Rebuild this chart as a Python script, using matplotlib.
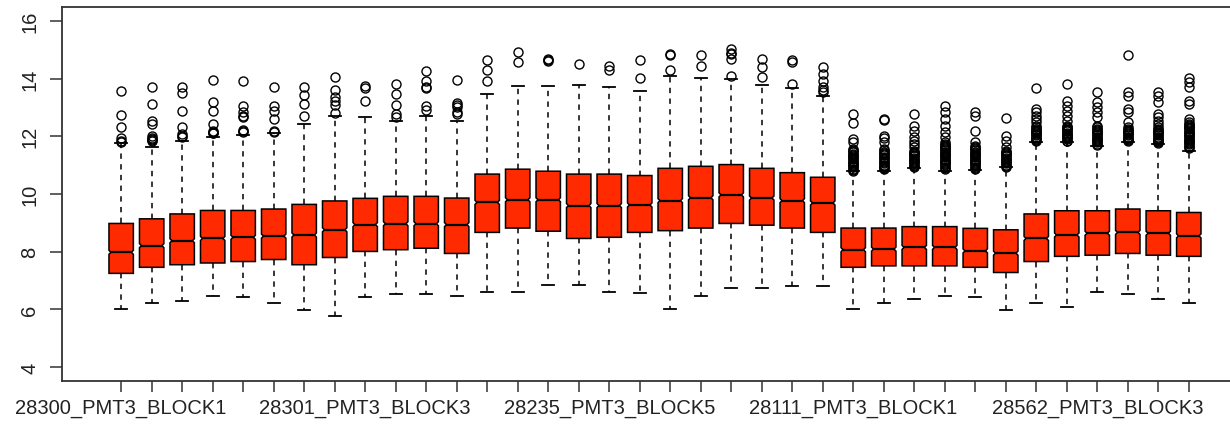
import numpy as np
import matplotlib.pyplot as plt

# box statistics, one entry per box (36 boxes)
q3 = [8.98, 9.14, 9.31, 9.43, 9.43, 9.48, 9.64, 9.76, 9.85, 9.92, 9.92, 9.86,
      10.69, 10.86, 10.79, 10.69, 10.69, 10.64, 10.89, 10.96, 11.02, 10.89, 10.74, 10.58,
      8.82, 8.82, 8.87, 8.87, 8.81, 8.76, 9.31, 9.42, 9.42, 9.48, 9.42, 9.36]
med = [7.98, 8.21, 8.38, 8.46, 8.50, 8.54, 8.58, 8.76, 8.94, 8.97, 8.97, 8.94,
       9.71, 9.80, 9.80, 9.60, 9.60, 9.62, 9.77, 9.87, 9.97, 9.86, 9.77, 9.69,
       8.07, 8.09, 8.15, 8.15, 8.03, 7.95, 8.46, 8.58, 8.64, 8.67, 8.64, 8.55]
q1 = [7.25, 7.46, 7.55, 7.61, 7.66, 7.73, 7.55, 7.80, 8.01, 8.07, 8.12, 7.94,
      8.67, 8.82, 8.71, 8.46, 8.50, 8.67, 8.73, 8.82, 8.98, 8.92, 8.82, 8.67,
      7.46, 7.51, 7.51, 7.51, 7.46, 7.28, 7.66, 7.84, 7.88, 7.94, 7.88, 7.84]
whishi = [11.76, 11.64, 11.83, 11.97, 12.05, 12.10, 12.43, 12.72, 12.66, 12.54, 12.69, 12.54,
          13.47, 13.73, 13.73, 13.79, 13.70, 13.58, 14.08, 14.02, 13.99, 13.79, 13.66, 13.41,
          10.79, 10.81, 10.90, 10.81, 10.84, 10.92, 11.79, 11.79, 11.68, 11.79, 11.73, 11.50]
whislo = [6.03, 6.24, 6.30, 6.47, 6.42, 6.24, 5.98, 5.76, 6.44, 6.52, 6.53, 6.47,
          6.62, 6.62, 6.84, 6.86, 6.62, 6.57, 6.03, 6.47, 6.74, 6.74, 6.80, 6.82,
          6.03, 6.21, 6.36, 6.47, 6.42, 5.98, 6.22, 6.10, 6.59, 6.53, 6.36, 6.22]

outliers = [
    [13.56, 12.74, 12.31, 11.93, 11.85, 11.79],
    [13.72, 13.11, 12.54, 12.43, 12.02, 11.95, 11.91, 11.87, 11.85],
    [13.72, 13.49, 12.89, 12.31, 12.08, 12.02, 11.98],
    [13.95, 13.18, 12.89, 12.43, 12.18, 12.15, 12.12, 12.10],
    [13.90, 13.04, 12.83, 12.72, 12.66, 12.22, 12.18, 12.14],
    [13.72, 13.04, 12.89, 12.60, 12.20, 12.16],
    [13.72, 13.43, 13.12, 12.72],
    [14.05, 13.62, 13.35, 13.24, 13.09, 12.80],
    [13.73, 13.66, 13.24],
    [13.82, 13.47, 13.09, 12.77, 12.66],
    [14.25, 13.93, 13.70, 13.66, 13.04, 12.92],
    [13.95, 13.16, 13.09, 13.00, 12.83, 12.77],
    [14.65, 14.28, 13.90],
    [14.91, 14.59],
    [14.68, 14.64, 14.60],
    [14.49],
    [14.42, 14.28],
    [14.65, 14.03],
    [14.86, 14.82, 14.28],
    [14.83, 14.45],
    [15.01, 14.90, 14.86, 14.68, 14.08],
    [14.68, 14.39, 14.05],
    [14.65, 14.57, 13.82],
    [14.39, 14.16, 13.93, 13.70, 13.62, 13.55],
    [12.77, 12.46, 11.90, 11.79, 11.56, 11.52, 11.48, 11.44, 11.40, 11.36, 11.32, 11.28,
     11.24, 11.20, 11.16, 11.12, 11.08, 11.04, 11.00, 10.96, 10.92, 10.88, 10.84, 10.81],
    [12.60, 12.58, 12.02, 11.93, 11.79, 11.56, 11.52, 11.47, 11.43, 11.38, 11.34, 11.29,
     11.25, 11.20, 11.16, 11.11, 11.07, 11.02, 10.98, 10.93, 10.89, 10.85],
    [12.77, 12.37, 12.19, 11.96, 11.85, 11.73, 11.62, 11.50, 11.46, 11.42, 11.38, 11.34,
     11.30, 11.26, 11.22, 11.18, 11.14, 11.10, 11.06, 11.02, 10.98, 10.94],
    [13.06, 12.83, 12.60, 12.37, 12.14, 11.96, 11.79, 11.75, 11.71, 11.67, 11.63, 11.59,
     11.55, 11.51, 11.47, 11.43, 11.39, 11.35, 11.31, 11.27, 11.23, 11.19, 11.15, 11.11,
     11.07, 11.03, 10.99, 10.95, 10.91, 10.87],
    [12.83, 12.71, 12.19, 11.79, 11.67, 11.63, 11.59, 11.55, 11.51, 11.47, 11.43, 11.39,
     11.35, 11.31, 11.27, 11.23, 11.19, 11.15, 11.11, 11.07, 11.03, 10.99, 10.95, 10.91, 10.88],
    [12.62, 12.02, 11.85, 11.62, 11.50, 11.46, 11.42, 11.38, 11.34, 11.30, 11.26, 11.22,
     11.18, 11.14, 11.10, 11.06, 11.02, 10.98, 10.95],
    [13.67, 12.95, 12.83, 12.71, 12.60, 12.48, 12.37, 12.31, 12.27, 12.23, 12.19, 12.15,
     12.11, 12.07, 12.03, 11.99, 11.95, 11.91, 11.87, 11.83],
    [13.81, 13.23, 13.06, 12.89, 12.71, 12.54, 12.37, 12.33, 12.29, 12.25, 12.21, 12.17,
     12.13, 12.09, 12.05, 12.01, 11.97, 11.93, 11.89, 11.85, 11.82],
    [13.55, 13.18, 13.00, 12.83, 12.66, 12.37, 12.31, 12.27, 12.23, 12.19, 12.15, 12.11,
     12.07, 12.03, 11.99, 11.95, 11.91, 11.87, 11.83, 11.79, 11.75, 11.71],
    [14.82, 13.52, 13.41, 12.95, 12.83, 12.48, 12.31, 12.27, 12.23, 12.19, 12.15, 12.11,
     12.07, 12.03, 11.99, 11.95, 11.91, 11.87, 11.83],
    [13.52, 13.41, 13.18, 12.77, 12.66, 12.54, 12.42, 12.31, 12.27, 12.23, 12.19, 12.15,
     12.11, 12.07, 12.03, 11.99, 11.95, 11.91, 11.87, 11.83, 11.79, 11.76],
    [14.01, 13.87, 13.70, 13.23, 13.12, 12.60, 12.48, 12.44, 12.40, 12.36, 12.32, 12.28,
     12.24, 12.20, 12.16, 12.12, 12.08, 12.04, 12.00, 11.96, 11.92, 11.88, 11.84, 11.80,
     11.76, 11.72, 11.68, 11.64, 11.60],
]

# only every 8th name fits under the axis
tick_names = ["28300_PMT3_BLOCK1", "28301_PMT3_BLOCK3", "28235_PMT3_BLOCK5",
              "28111_PMT3_BLOCK1", "28562_PMT3_BLOCK3"]
named_boxes = [1, 9, 17, 25, 33]

box_red = "#ff2a00"
ink = "#222222"
box_w = 0.8
notch_frac = 0.84   # how far in the notch goes (share of half width)
notch_h = 0.07

plt.rcParams['font.family'] = ['Liberation Sans', 'DejaVu Sans']

fig = plt.figure(figsize=(12.3, 4.35), dpi=100)
ax = fig.add_axes([0.0504, 0.1218, 0.9642, 0.8598])

positions = np.arange(1, len(med) + 1)
stats = []
for i in range(len(med)):
    stats.append(dict(q1=q1[i], med=med[i], q3=q3[i], whislo=whislo[i],
                      whishi=whishi[i], fliers=outliers[i]))

ax.bxp(stats, positions=positions, widths=box_w, showbox=False,
       whiskerprops=dict(color='black', lw=1.1, linestyle=(0, (3.5, 3.5))),
       capprops=dict(color='black', lw=1.3),
       medianprops=dict(linestyle='none'),
       flierprops=dict(marker='o', markerfacecolor='none', markeredgecolor='black',
                       markersize=6.5, markeredgewidth=1.0, linestyle='none'))

# notched boxes, drawn the R way (shallow notch)
hw = box_w / 2
for p, a, m, b in zip(positions, q1, med, q3):
    xs = [p - hw, p + hw, p + hw, p + hw * notch_frac, p + hw, p + hw,
          p - hw, p - hw, p - hw * notch_frac, p - hw, p - hw]
    ys = [a, a, m - notch_h, m, m + notch_h, b, b, m + notch_h, m, m - notch_h, a]
    ax.fill(xs, ys, facecolor=box_red, edgecolor='black', lw=1.1, zorder=3)
    ax.plot([p - hw * notch_frac, p + hw * notch_frac], [m, m], color='black',
            lw=1.6, zorder=4, solid_capstyle='butt')

ax.set_xlim(-0.94, len(med) + 1.94)
ax.set_ylim(3.52, 16.48)
ax.set_yticks([4, 6, 8, 10, 12, 14, 16])
ax.set_xticks(positions)
labels = [""] * len(med)
for n, b in zip(tick_names, named_boxes):
    labels[b - 1] = n
ax.set_xticklabels(labels)

for s in ax.spines.values():
    s.set_color('#333333')
    s.set_linewidth(1.3)

ax.tick_params(axis='x', length=8, width=1.1, color='#333333', pad=4,
               labelsize=14.5, labelcolor=ink)
ax.tick_params(axis='y', length=8.5, width=1.1, color='#333333', pad=8,
               labelsize=14.5, labelcolor=ink, labelrotation=90)
for lbl in ax.get_yticklabels():
    lbl.set_va('center')

fig.savefig('out.png', dpi=100)
